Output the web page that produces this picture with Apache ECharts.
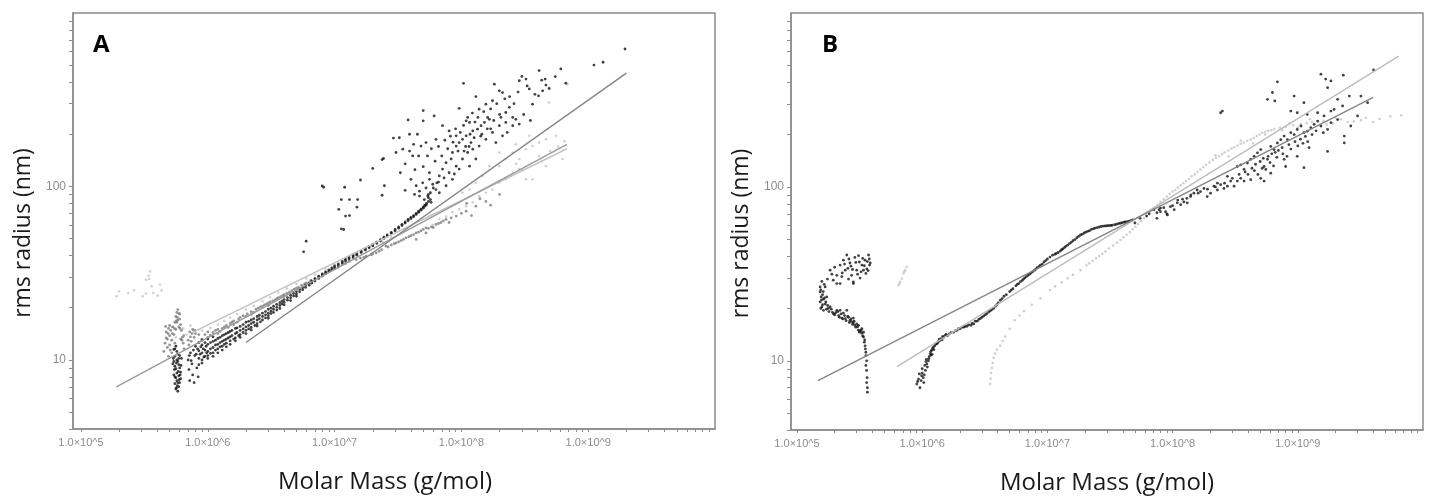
<!DOCTYPE html>
<html>
<head>
<meta charset="utf-8">
<script src="https://cdn.jsdelivr.net/npm/echarts@6/dist/echarts.min.js"></script>
<style>
  html, body { margin: 0; padding: 0; background: #fff; }
  #chart { width: 1432px; height: 497px; }
</style>
</head>
<body>
<div id="chart"></div>
<script>
// tick labels (log axes)
var massLabels = ['1.0×10^5', '1.0×10^6', '1.0×10^7', '1.0×10^8', '1.0×10^9'];
var massMajors = [1e5, 1e6, 1e7, 1e8, 1e9];
var radiusLabels = [10, 100];

// ---- panel A : [molar mass, rms radius] ----
var aBlack = [
  // cluster near 5.5e5
  [5.3e5,9.5],[5.4e5,8.2],[5.5e5,7.3],[5.5e5,10.5],[5.6e5,6.8],[5.6e5,8.9],[5.7e5,7.6],[5.7e5,11.2],[5.8e5,6.6],[5.8e5,9.8],
  [5.9e5,8.1],[5.9e5,7.0],[6.0e5,9.0],[6.0e5,7.4],[6.1e5,8.5],[6.2e5,10.2],[5.4e5,11.5],[5.6e5,12.0],[5.8e5,10.8],[6.1e5,7.8],
  [5.5e5,9.2],[5.7e5,8.4],[5.9e5,9.4],[6.0e5,10.6],[5.6e5,7.9],[5.35e5,10.2],[5.45e5,8.8],[5.65e5,9.6],[5.75e5,7.1],[5.85e5,8.6],
  [5.95e5,7.7],[6.05e5,8.2],[5.5e5,11.6],[5.7e5,10.0],[5.9e5,10.2],[5.8e5,7.4],[5.65e5,6.9],[5.4e5,9.8],[6.15e5,9.3],[5.5e5,8.0],
  // cluster near 7.5e5
  [7.0e5,10.0],[7.1e5,8.8],[7.2e5,7.6],[7.3e5,11.0],[7.5e5,9.5],[7.6e5,8.2],[7.8e5,7.4],[7.9e5,10.6],[8.0e5,12.0],[8.2e5,9.0],[8.4e5,8.0],
  [7.15e5,10.6],[7.4e5,9.9],[7.7e5,11.4],[8.1e5,10.8],[8.3e5,11.6],
  // dense band
  [8.5e5,10.2],[8.5e5,11.3],[8.5e5,12.6],[8.5e5,9.4],[9e5,11.0],[9e5,12.2],[9e5,10.0],[9e5,13.0],[9.5e5,11.4],[9.5e5,10.5],[9.5e5,12.6],
  [1.0e6,11.2],[1.0e6,12.3],[1.0e6,13.2],[1.0e6,10.6],[1.1e6,11.8],[1.1e6,12.8],[1.1e6,11.0],[1.1e6,13.6],[1.2e6,12.3],[1.2e6,13.3],[1.2e6,11.6],
  [1.3e6,12.8],[1.3e6,13.8],[1.3e6,12.0],[1.4e6,13.2],[1.4e6,14.2],[1.4e6,12.5],[1.5e6,13.6],[1.5e6,14.6],[1.5e6,12.9],[1.65e6,14.2],[1.65e6,15.2],[1.65e6,13.4],
  [1.8e6,14.8],[1.8e6,15.6],[1.8e6,14.0],[2.0e6,15.5],[2.0e6,16.5],[2.0e6,14.8],[2.2e6,16.2],[2.2e6,17.0],[2.2e6,15.4],[2.45e6,17.0],[2.45e6,17.8],[2.45e6,16.2],
  [2.7e6,17.8],[2.7e6,18.6],[3.0e6,18.6],[3.0e6,19.6],[3.0e6,18.0],[3.3e6,19.6],[3.3e6,20.4],[3.7e6,20.6],[3.7e6,21.4],[4.0e6,21.5],[4.0e6,22.3],
  [4.5e6,22.8],[4.5e6,23.6],[5.0e6,24.0],[5.0e6,24.8],[5.6e6,25.4],[5.6e6,26.2],[6.3e6,27.0],[6.3e6,27.8],[7.0e6,28.5],[7.0e6,29.3],[8.0e6,30.5],[8.0e6,31.3],
  [9.0e6,32.2],[9.0e6,33.0],[1.0e7,34.0],[1.0e7,34.8],[1.15e7,36.2],[1.15e7,37.0],[1.3e7,38.2],[1.3e7,39.0],[1.5e7,40.2],[1.5e7,41.0],[1.75e7,43.0],[1.75e7,43.8],
  [2.0e7,45.5],[2.0e7,46.3],[2.3e7,48.5],[2.3e7,49.3],[2.6e7,51.8],[2.6e7,52.6],[3.0e7,55.5],[3.0e7,56.5],[3.4e7,59.5],[3.4e7,60.5],[3.8e7,63.5],[3.8e7,64.5],
  [4.2e7,67.0],[4.2e7,68.0],[4.6e7,71.0],[4.6e7,72.0],[5.0e7,75.0],[5.0e7,76.0],[5.3e7,78.5],[5.3e7,80.0],[5.5e7,82],[5.5e7,86],[5.5e7,90],[5.7e7,84],[5.7e7,92],
  [8.7e5,10.8],[8.8e5,11.9],[9.2e5,11.6],[9.3e5,10.4],[9.7e5,12.0],[9.8e5,11.0],[1.05e6,11.6],[1.05e6,12.6],[1.05e6,10.9],[1.15e6,12.2],[1.15e6,13.0],
  [1.15e6,11.4],[1.25e6,12.6],[1.25e6,13.5],[1.25e6,11.9],[1.35e6,13.0],[1.35e6,14.0],[1.35e6,12.3],[1.45e6,13.4],[1.45e6,14.4],[1.55e6,13.8],[1.55e6,14.8],
  [1.6e6,13.2],[1.7e6,14.4],[1.7e6,15.3],[1.75e6,13.8],[1.9e6,15.1],[1.9e6,16.0],[1.9e6,14.4],[2.1e6,15.8],[2.1e6,16.7],[2.1e6,15.1],[2.3e6,16.5],
  [2.3e6,17.3],[2.35e6,15.8],[2.55e6,17.3],[2.55e6,18.1],[2.6e6,16.6],[2.85e6,18.2],[2.85e6,19.0],[2.85e6,17.5],[3.15e6,19.1],[3.15e6,19.9],[3.15e6,18.5],
  [3.5e6,20.1],[3.5e6,20.9],[3.5e6,19.4],[3.85e6,21.0],[3.85e6,21.8],[4.25e6,22.1],[4.25e6,22.9],[4.75e6,23.4],[4.75e6,24.2],[5.3e6,24.7],[5.3e6,25.5],
  [5.9e6,26.2],[5.9e6,27.0],[6.6e6,27.7],[6.6e6,28.5],[7.5e6,29.5],[7.5e6,30.3],[8.5e6,31.4],[8.5e6,32.2],[9.5e6,33.1],[9.5e6,33.9],[1.07e7,35.0],
  [1.07e7,35.8],[1.22e7,37.2],[1.22e7,38.0],[1.4e7,39.2],[1.4e7,40.0],[1.62e7,41.6],[1.62e7,42.4],[1.87e7,44.3],[1.87e7,45.1],[2.15e7,47.0],[2.15e7,47.8],
  [2.45e7,50.2],[2.45e7,51.0],[2.8e7,53.6],[2.8e7,54.4],[3.2e7,57.5],[3.2e7,58.5],[3.6e7,61.5],[3.6e7,62.5],[4.0e7,65.3],[4.0e7,66.3],[4.4e7,69.0],
  [4.4e7,70.0],[4.8e7,73.0],[4.8e7,74.0],[5.15e7,77],[5.15e7,78],
  [9e5,9.6],[1.0e6,10.2],[1.1e6,10.5],[1.2e6,11.0],[1.3e6,11.4],[1.4e6,11.9],[1.5e6,12.3],[1.65e6,12.9],[1.8e6,13.5],[2.0e6,14.2],[2.2e6,14.9],
  [2.45e6,15.7],[2.7e6,17.0],[3.0e6,17.4],[3.3e6,18.8],[3.7e6,19.8],[4.0e6,20.8],[4.5e6,22.0],[5.0e6,23.3],
  // scattered outliers
  [7.98e6,100.7],[8.2e6,99],[5.97e6,48.4],[5.7e6,42],[1.13e7,84],[1.31e7,84],[1.52e7,84],[1.08e7,73.8],[1.22e7,67.5],[1.31e7,68],[1.13e7,57],[1.18e7,56.5],
  [1.6e7,109],[1.2e7,99],[2.0e7,127],[2.37e7,143],[2.43e7,145],[2.47e7,101],[2.37e7,89],[1.5e7,76],
  // cloud
  [2.91e7,190],[3.24e7,191],[3.8e7,242],[5.0e7,274],[5.0e7,239],[6.1e7,255],[3.9e7,200],[4.5e7,200],[3.05e7,157],[3.45e7,164],[4.13e7,150],[4.8e7,171],
  [5.26e7,179],[6.3e7,187],[7.1e7,224],[8.0e7,209],[9.1e7,196],[9.6e7,282],[1.04e8,393],[1.09e8,239],[1.16e8,234],[1.23e8,209],[1.3e8,330],[1.38e8,279],
  [1.56e8,298],[1.61e8,250],[1.76e8,312],[1.82e8,389],[1.99e8,356],[2.11e8,348],[2.24e8,267],[2.39e8,286],[2.54e8,224],[2.69e8,244],[2.86e8,407],[3.0e8,431],
  [3.23e8,416],[3.43e8,365],[3.64e8,298],[4.06e8,333],[4.1e8,466],[4.37e8,356],[4.58e8,416],[4.64e8,384],[4.92e8,367],[6.08e8,476],[6.66e8,394],[1.11e9,501],
  [1.31e9,520],[1.95e9,620],
  [4.4e7,101],[4.67e7,94],[4.95e7,105],[5.26e7,98],[5.6e7,110],[5.94e7,103],[6.3e7,96],[5.43e7,88],[5.1e7,84],[5.77e7,81],[4.67e7,88],[4.27e7,90],
  [6.7e7,115],[7.1e7,126],[7.57e7,137],[8.3e7,144],[8.5e7,157],[9.1e7,171],[9.6e7,179],[1.02e8,187],[1.09e8,196],[1.19e8,179],[1.26e8,191],[1.34e8,214],
  [1.43e8,224],[1.52e8,234],[1.66e8,244],[8.0e7,120],[9.1e7,131],[1.02e8,144],[1.12e8,157],[1.23e8,164],[1.38e8,171],[1.56e8,187],[1.76e8,205],[1.99e8,224],
  [2.24e8,234],[2.54e8,250],[2.86e8,229],[2.11e8,196],[1.87e8,179],[1.3e8,144],[1.16e8,131],[9.6e7,126],[8.5e7,110],[7.57e7,101],[6.7e7,92],
  [6.0e7,98],[6.6e7,106],[7.3e7,112],[8.8e7,118],[1.05e8,160],[1.15e8,170],[1.45e8,200],[1.7e8,215],[2.0e8,260],[2.3e8,205],[3.1e8,260],[3.5e8,240],
  [3.3e7,120],[3.6e7,135],[3.9e7,160],[4.2e7,175],[4.6e7,150],[5.0e7,130],[5.4e7,150],[5.8e7,165],[6.2e7,140],[6.6e7,170],[7.0e7,150],[7.4e7,185],
  [7.8e7,165],[8.2e7,195],[8.6e7,180],[9.0e7,215],[9.4e7,160],[9.8e7,205],[1.04e8,225],[1.08e8,170],[1.12e8,250],[1.17e8,200],[1.22e8,265],[1.28e8,235],
  [1.35e8,250],[1.42e8,195],[1.5e8,270],[1.6e8,215],[1.7e8,280],[1.8e8,240],[1.9e8,300],[2.05e8,250],[2.2e8,320],[2.4e8,330],[2.6e8,300],[2.8e8,350],
  [3.3e8,380],[3.8e8,340],[4.3e8,410],[5.5e8,430],[3.6e7,95],[4.0e7,110],[4.3e7,125],[5.6e7,120],[6.4e7,105]
];

var aGray = [
  // blob with peak near 5.8e5
  [4.6e5,12.5],[4.7e5,14.5],[4.8e5,13.2],[4.8e5,11.8],[4.9e5,15.2],[5.0e5,13.8],[5.0e5,12.2],[5.1e5,14.8],[5.2e5,13.0],[5.3e5,15.5],[5.4e5,14.0],
  [5.5e5,16.5],[5.6e5,17.8],[5.7e5,18.8],[5.8e5,19.5],[5.9e5,18.5],[6.0e5,17.2],[6.1e5,16.0],[6.2e5,14.8],[6.3e5,13.5],[6.4e5,12.5],[6.5e5,11.6],
  [5.7e5,16.5],[5.9e5,15.5],[6.1e5,13.2],[7.0e5,13.0],[7.2e5,14.5],[7.4e5,12.8],[7.6e5,15.0],[7.8e5,13.5],[8.0e5,14.2],[4.5e5,11.2],[5.2e5,11.0],
  [4.9e5,10.5],[5.5e5,12.5],[4.7e5,13.4],[5.0e5,15.8],[5.6e5,15.0],[6.0e5,18.4],[5.8e5,17.0],[4.65e5,15.6],[4.85e5,14.2],[5.05e5,11.4],[5.25e5,14.2],
  [5.45e5,15.2],[5.65e5,16.8],[5.75e5,17.6],[6.05e5,15.2],[6.25e5,13.0],[7.1e5,12.2],[7.3e5,13.6],[7.5e5,14.2],[7.9e5,14.8],[6.45e5,13.8],
  // band above the black one
  [8.5e5,14.0],[9e5,13.2],[1.0e6,14.5],[1.0e6,13.5],[1.1e6,14.4],[1.2e6,15.0],[1.2e6,14.2],[1.3e6,15.2],[1.4e6,15.8],[1.5e6,16.2],[1.6e6,16.8],[1.6e6,16.0],
  [1.75e6,17.2],[1.9e6,18.0],[2.05e6,18.4],[2.2e6,19.0],[2.2e6,18.3],[2.4e6,19.6],[2.6e6,20.2],[2.8e6,20.8],[3.0e6,21.3],[3.0e6,20.6],[3.25e6,21.9],
  [3.5e6,22.6],[3.75e6,23.2],[4.0e6,23.8],[4.0e6,23.2],[4.4e6,24.6],[4.8e6,25.6],[5.2e6,26.2],[5.5e6,27.0],[6.0e6,27.8],[6.5e6,28.8],[7.0e6,29.5],
  [7.5e6,30.4],[8.0e6,31.0],[8.5e6,31.8],[9.2e6,32.6],[1.0e7,33.5],[1.07e7,34.2],[1.15e7,35.5],[1.22e7,36.0],
  [9.5e5,14.0],[1.05e6,13.9],[1.15e6,14.8],[1.25e6,14.6],[1.35e6,15.5],[1.45e6,15.4],[1.55e6,16.5],[1.7e6,16.5],[1.8e6,17.6],[2.0e6,17.8],[2.3e6,18.8],
  [2.5e6,19.9],[2.7e6,20.4],[2.9e6,21.0],[3.1e6,21.6],[3.4e6,22.2],[3.6e6,22.9],[3.9e6,23.5],[4.2e6,24.2],[4.6e6,25.1],[5.0e6,25.9],[5.8e6,27.4],
  // lower branch
  [1.3e7,37.0],[1.48e7,37.9],[1.6e7,38.6],[1.77e7,39.6],[1.95e7,40.4],[2.13e7,41.4],[2.35e7,43.2],[2.55e7,45.3],[2.8e7,46.0],[3.05e7,47.3],[3.35e7,48.8],
  [3.66e7,50.6],[4.0e7,52.0],[4.4e7,54],[4.4e7,49.5],[4.8e7,55.5],[5.26e7,57.8],[5.26e7,54],[5.8e7,58.5],[6.3e7,60.4],[6.9e7,62.0],[7.57e7,64.6],
  [8.3e7,66.0],[9.1e7,67.5],[1.0e8,70],[1.09e8,72],[1.2e8,68],[1.3e8,77],[1.4e8,85],[1.56e8,82],[1.7e8,78],[2.0e8,90],[1.1e8,80],[6.0e7,58],[8.0e7,62],
  [1.4e7,38.3],[1.7e7,39.0],[2.0e7,41.0],[2.25e7,42.4],[2.65e7,44.8],[2.95e7,46.8],[3.2e7,48.0],[3.5e7,49.6],[3.85e7,51.4],[4.2e7,52.8],[4.6e7,54.6],
  [5.0e7,56.6],[5.5e7,57.4],[6.6e7,61.2],[7.2e7,63.4]
];

var aLight = [
  // upper-left group
  [1.91e5,23.3],[2.0e5,24.9],[2.36e5,24.3],[2.62e5,25.2],[3.06e5,23.3],[3.25e5,24.1],[3.45e5,29.3],[3.4e5,30.6],[3.5e5,32.4],[3.6e5,26.6],
  [3.72e5,24.3],[4.02e5,23.5],[4.19e5,27.2],[4.32e5,25.2],[3.25e5,29],
  // around the gray blob and the upper edge of the band
  [5.2e5,15.5],[5.6e5,13.5],[6.4e5,15.2],[6.8e5,14.0],[7.3e5,15.8],[7.7e5,14.8],
  [9e5,14.8],[1.05e6,15.3],[1.2e6,16.0],[1.35e6,16.8],[1.5e6,17.5],[1.7e6,18.4],[2e6,19.5],[2.3e6,20.5],[2.7e6,21.8],[3.1e6,23.0],[3.6e6,24.4],
  [4.2e6,25.8],[5e6,27.5],[6e6,29.5],[7e6,31.0],[8.5e6,33.5],[1e7,35.5],[1.2e7,38.0],[1.45e7,40.5],[1.7e7,43],[2e7,45.5],[2.4e7,48],[2.8e7,51],
  // cloud at high mass
  [1.99e8,131],[2.24e8,144],[2.54e8,157],[2.86e8,144],[3.23e8,164],[3.64e8,171],[4.1e8,179],[4.64e8,187],[5.56e8,196],[6.27e8,144],[6.87e8,389],
  [4.92e8,305],[3.64e8,110],[3.23e8,110],[2.86e8,126],[2.54e8,120],[2.24e8,110],[1.99e8,105],[1.76e8,96],[1.56e8,92],[1.38e8,88],[1.23e8,81],
  [1.09e8,77],[9.6e7,74],[8.5e7,71],[7.57e7,67],[6.7e7,65],[5.94e7,60],[2.69e8,175],[3.43e8,196],[4.1e8,150],[4.64e8,131],[1.99e8,157],[1.66e8,131],
  [1.47e8,115],[1.3e8,105],[1.16e8,96],[1.02e8,92],[5.0e8,160],[5.8e8,170],[6.5e8,182],[4.3e8,140],[3.0e8,125],[2.7e8,135]
];

// fit lines, endpoints
var aLineMid = [[1.9e5, 7.0], [6.8e8, 175]];
var aLineDark = [[2.0e6, 12.6], [2.0e9, 450]];
var aLineLight = [[7.6e5, 14.4], [6.8e8, 165]];

// ---- panel B ----
var bBlack = [
  // C-shaped group at low mass
  [1.84e5,33.2],[1.95e5,29.1],[2.08e5,31.0],[2.21e5,35.5],[2.21e5,27.8],[2.35e5,37.9],[2.43e5,33.2],[2.5e5,40.6],[2.65e5,36.5],[2.73e5,31.0],
  [2.82e5,27.8],[2.9e5,39.3],[3.0e5,33.2],[3.1e5,40.2],[3.19e5,29.9],[3.3e5,35.5],[3.4e5,33.2],[3.5e5,37.9],[3.61e5,33.8],[3.73e5,40.6],[3.8e5,35.5],
  [2.08e5,27.8],[2.28e5,30.5],[2.58e5,29.5],[2.82e5,28.4],
  [2.3e5,32.0],[2.4e5,36.0],[2.55e5,34.0],[2.6e5,38.5],[2.7e5,35.0],[2.78e5,33.5],[2.95e5,36.8],[3.05e5,31.5],[3.15e5,37.0],[3.25e5,32.5],[3.35e5,38.8],
  [3.45e5,35.2],[3.55e5,31.8],[3.65e5,37.2],[3.7e5,33.0],[3.78e5,38.5],[3.85e5,36.5],[2.0e5,34.5],[1.9e5,31.5],[1.75e5,29.5],[1.65e5,27.5],
  [1.58e5,28.6],[1.53e5,26.6],[1.53e5,24.9],[1.56e5,23.3],[1.53e5,21.8],[1.58e5,20.4],[1.63e5,19.5],[1.68e5,26.6],[1.73e5,23.3],[1.63e5,22.6],
  [1.7e5,21.8],[1.6e5,24.0],
  [1.55e5,25.6],[1.57e5,22.4],[1.6e5,21.0],[1.55e5,20.0],[1.62e5,25.0],[1.66e5,23.0],[1.68e5,21.2],[1.72e5,19.8],[1.76e5,20.8],[1.8e5,19.2],
  [1.88e5,19.8],[1.96e5,18.6],[2.04e5,18.9],[2.12e5,19.2],[2.18e5,17.8],[2.25e5,18.6],[2.32e5,17.4],[2.4e5,18.2],[2.47e5,17.0],[2.54e5,18.0],
  [2.62e5,16.6],[2.7e5,17.4],[2.78e5,16.2],[2.86e5,16.9],[2.95e5,15.6],[3.05e5,15.7],[3.15e5,14.6],[3.25e5,15.0],[3.35e5,13.9],[3.4e5,14.6],
  [3.48e5,13.2],[3.5e5,12.2],[3.55e5,11.2],
  [1.78e5,20.0],[1.84e5,20.4],[1.92e5,19.0],[2.08e5,19.5],[2.15e5,18.2],[2.21e5,19.5],[2.35e5,18.8],[2.43e5,17.5],[2.5e5,19.5],[2.58e5,17.8],
  [2.65e5,17.1],[2.73e5,16.8],[2.82e5,16.5],[2.9e5,16.0],[3.0e5,16.3],[3.1e5,15.0],[3.19e5,14.8],[3.3e5,14.4],[3.4e5,13.7],[3.45e5,12.8],[3.52e5,11.7],
  [2.28e5,17.6],[2.0e5,18.4],[2.82e5,17.6],[3.1e5,16.0],[3.3e5,15.3],
  [3.55e5,10.7],[3.6e5,10.0],[3.55e5,9.4],[3.6e5,8.8],[3.63e5,8.0],[3.6e5,7.5],[3.65e5,7.0],[3.65e5,6.6],
  // main curve
  [9.06e5,7.35],[9.35e5,7.85],[9.6e5,7.0],[9.9e5,8.2],[1.03e6,7.5],[9.2e5,7.6],[9.5e5,8.4],[1.0e6,9.0],[1.06e6,8.8],[1.09e6,9.6],[1.12e6,10.0],
  [1.16e6,11.0],[1.19e6,11.5],[1.23e6,12.0],[1.31e6,12.5],[1.39e6,13.1],[1.48e6,13.6],[1.57e6,14.0],[1.78e6,14.6],[2.01e6,15.3],[2.28e6,15.8],
  [2.58e6,16.3],[2.91e6,17.5],[3.29e6,18.7],[3.72e6,20.0],[4.21e6,22.3],
  [1.02e6,8.0],[1.05e6,9.4],[1.08e6,10.2],[1.1e6,9.2],[1.14e6,10.6],[1.18e6,10.8],[1.21e6,11.8],[1.26e6,12.2],[1.35e6,12.9],[1.44e6,13.2],[1.52e6,13.9],
  [1.65e6,14.3],[1.9e6,15.0],[2.15e6,15.6],[2.45e6,16.0],[2.75e6,16.9],[3.1e6,18.1],[3.5e6,19.4],[3.95e6,21.0],[4.5e6,23.5],[5.0e6,25.0],[5.6e6,27.0],
  [6.3e6,29.0],[7.0e6,31.0],[7.9e6,33.2],[8.8e6,35.5],[1.0e7,38.5],[1.1e7,40.5],[1.27e7,42.8],[1.4e7,45.5],[1.6e7,49.0],[1.84e7,52.9],[2.1e7,55.5],
  [2.4e7,58],[2.8e7,59.5],[3.2e7,60],[3.7e7,61.5],[4.2e7,63],[4.8e7,64.5],[5.5e7,66],[6.2e7,68],[8e7,72],
  [5.3e6,26.0],[5.9e6,27.8],[6.6e6,30.0],[7.4e6,32.0],[8.3e6,34.3],[9.4e6,37.0],[1.18e7,41.5],[1.33e7,44.0],[1.5e7,47.2],[1.72e7,51.0],[1.97e7,54.3],
  [2.25e7,57.0],[2.6e7,58.8],[3.0e7,59.8],[3.45e7,60.6],[3.95e7,62.2],[4.5e7,63.5],
  [9.8e5,7.7],[1.0e6,8.5],[1.04e6,8.3],[1.07e6,9.9],[1.13e6,10.3],[1.17e6,11.3],[1.2e6,10.9],[1.24e6,11.6],[1.28e6,12.5],[1.33e6,12.7],[1.37e6,13.3],
  [1.42e6,13.4],[1.46e6,13.8],[1.55e6,14.2],[1.6e6,14.0],[1.7e6,14.5],[1.85e6,14.9],[1.95e6,15.3],[2.08e6,15.6],[2.2e6,15.8],[2.35e6,16.1],[2.5e6,16.4],
  [2.65e6,16.9],[2.83e6,17.3],[3.0e6,17.8],[3.2e6,18.4],[3.4e6,19.1],[3.6e6,19.7],[3.85e6,20.6],[4.05e6,21.5],[4.35e6,22.8],[4.7e6,24.0],[5.15e6,25.5],
  [5.75e6,27.5],[6.1e6,28.5],[6.45e6,29.5],[6.8e6,30.5],[7.2e6,31.5],[7.65e6,32.6],[8.1e6,33.7],[8.6e6,34.9],[9.1e6,36.0],[9.7e6,37.7],[1.05e7,39.5],
  [1.15e7,41.0],[1.22e7,42.0],[1.3e7,43.5],[1.37e7,44.8],[1.45e7,46.2],[1.55e7,48.0],[1.66e7,49.8],[1.78e7,52.0],[1.9e7,53.5],[2.03e7,55.0],[2.17e7,56.0],
  [2.33e7,57.4],[2.5e7,58.3],[2.7e7,59.2],[2.9e7,59.6],[3.1e7,59.9],[3.3e7,60.2],[3.57e7,61.0],[3.82e7,61.8],[4.1e7,62.6],[4.35e7,63.2],[4.65e7,64.0],
  [5.0e7,62],[6.5e7,70],[7.5e7,66],[8.5e7,76],[9e7,70],
  // cloud at high mass
  [7.1e7,74],[7.5e7,71],[8.0e7,75.5],[8.8e7,72],[9.6e7,77],[1.09e8,81],[1.16e8,79],[1.23e8,82],[1.39e8,88],[1.48e8,92],[1.57e8,96],[1.67e8,94],
  [1.78e8,98],[2.01e8,92],[2.14e8,101],[2.28e8,105],[2.42e8,103],[2.57e8,98],[2.74e8,101],[2.91e8,108],[3.29e8,131],[3.5e8,134],[3.72e8,126],
  [3.96e8,137],[4.21e8,144],[4.48e8,150],[4.76e8,157],[5.06e8,164],[5.38e8,131],[5.55e8,126],[5.72e8,144],[6.08e8,171],[6.47e8,164],[6.87e8,179],
  [7.31e8,187],[7.78e8,196],[8.26e8,187],[8.79e8,205],[9.35e8,200],[9.9e8,214],[1.06e9,224],[1.12e9,205],[1.19e9,209],[1.27e9,219],[1.35e9,229],
  [1.44e9,239],[1.53e9,224],[1.62e9,256],[1.73e9,214],[1.84e9,234],[1.95e9,279],[2.08e9,244],[2.28e9,292],[2.35e9,196],[2.65e9,224],[3.0e9,256],
  [3.61e9,305],[3.19e9,333],[2.08e9,319],[1.84e9,273],[1.44e9,267],[1.19e9,261],[9.9e8,267],[8.79e8,273],[6.87e8,402],[6.27e8,349],[5.72e8,319],
  [6.55e8,312],[9.35e8,333],[1.12e9,305],[1.53e9,445],[1.67e9,417],[1.84e9,407],[1.73e9,372],[2.31e9,439],[2.58e9,333],[4.03e9,470],[2.74e8,115],
  [2.42e8,267],[2.5e8,273],[5.38e8,108],[3.72e8,108],[1.12e9,129],[1.73e9,160],[2.35e9,179],[1.23e9,168],[9.9e8,150],[7.78e8,144],[8.0e8,131],
  [6.08e8,120],[5.06e8,112],[4.21e8,110],[3.29e8,108],[3.1e8,101],[2.28e8,96],[1.89e8,88],[1.31e8,81],[1.03e8,74],[9.1e7,69],[7.8e7,74],
  [3.0e8,112],[3.4e8,118],[3.8e8,122],[4.3e8,128],[4.6e8,135],[5.0e8,140],[5.3e8,146],[5.8e8,150],[6.2e8,155],[6.6e8,158],[7.0e8,162],[7.5e8,168],
  [8.5e8,175],[9.5e8,182],[1.05e9,188],[1.15e9,195],[1.3e9,200],[4.0e8,118],[4.5e8,124],[5.2e8,128],[6.0e8,138],[6.8e8,148],[7.6e8,155],[8.8e8,165],
  [1.0e9,172],[1.1e9,178],[2.6e8,105],[2.2e8,100],[1.9e8,97],[1.6e8,92],[1.4e8,90],[1.2e8,85],[3.5e8,112],[4.8e8,118],[6.4e8,132],[8.2e8,150],
  [1.2e9,182],[1.4e9,210],[1.6e9,205],[1.0e8,78],[1.1e8,84],[1.3e8,86]
];

var bLight = [
  // small group near 7e5
  [6.47e5,27.2],[6.67e5,28.5],[6.87e5,29.7],[7.1e5,31.8],[7.3e5,33.2],[7.53e5,34.7],[6.6e5,27.8],[7.17e5,32.5],
  // curve
  [3.5e6,7.35],[3.52e6,7.9],[3.55e6,8.5],[3.6e6,9.1],[3.65e6,9.7],[3.72e6,10.4],[3.82e6,11.0],[3.95e6,11.6],[4.2e6,12.2],[4.4e6,13.0],[4.6e6,13.8],
  [5.0e6,15.3],[5.5e6,17.1],[6.0e6,18.2],[6.5e6,19.3],[7.5e6,21],[8.8e6,22.9],[1.05e7,25.5],[1.15e7,26.8],[1.3e7,28.3],[1.45e7,29.8],[1.6e7,31.2],
  [1.84e7,33.2],[2.05e7,35.4],[2.3e7,37.5],[2.6e7,40.0],[2.9e7,42.5],[3.35e7,46.0],[3.84e7,49.5],[4.3e7,53.0],[4.8e7,57],[5.3e7,61],[5.9e7,66],
  [6.5e7,71],[7.2e7,75.7],[8.0e7,82],[9e7,88],[1.0e8,94],[1.1e8,99],[1.22e8,105],[1.35e8,111],[1.5e8,118],[1.67e8,126],[1.85e8,134],[2.1e8,143],
  [2.35e8,150],[2.6e8,158],[2.95e8,166],[3.3e8,173],[3.7e8,180],[4.2e8,187],[4.7e8,196],[5.2e8,205],[5.8e8,210],[6.5e8,215],[7.2e8,219],[8e8,222],
  [9.2e8,226],[1.06e9,229],[1.18e9,232],[1.3e9,236],[1.45e9,238],[1.6e9,240],[1.9e9,232],[2.2e9,245],[2.5e9,236],[2.8e9,238],[3.2e9,242],
  [3.5e9,250],[4.0e9,236],[4.5e9,246],[5.5e9,255],[6.7e9,258],
  [2.2e8,152],[2.8e8,150],[3.5e8,185],[4.4e8,178],[5.5e8,200],[7.5e8,212],[8.6e8,232],[1.0e9,220],[1.25e9,245],[1.7e9,228],[2.0e9,250],
  [2.15e7,36.4],[2.45e7,38.8],[2.75e7,41.2],[3.1e7,44.2],[3.6e7,47.8],[4.05e7,51.3],[4.55e7,55.0],[5.05e7,59.0],[5.6e7,63.5],[6.2e7,68.5],[6.85e7,73.4],
  [7.6e7,79],[8.5e7,85],[9.5e7,91],[1.05e8,96],[1.16e8,102],[1.28e8,108],[1.42e8,115],[1.58e8,122],[1.76e8,130],[1.97e8,138],[2.22e8,147],[2.48e8,154],
  [2.78e8,162],[3.1e8,169],[3.5e8,177],[3.95e8,184],[4.45e8,191],[4.95e8,200],[5.5e8,207],[6.15e8,212]
];

var bLineDark = [[1.47e5, 7.7], [4.0e9, 327]];
var bLineLight = [[6.3e5, 9.25], [6.4e9, 565]];

// ---- build chart ----
var massTicks = [];
for (var e = 5; e < 10; e++) {
  for (var m = 1; m < 10; m++) massTicks.push(m * Math.pow(10, e));
}
var radiusTicks = [];
[1, 10, 100].forEach(function (d) {
  for (var m = 1; m < 10; m++) if (m * d >= 4) radiusTicks.push(m * d);
});

var axisGray = '#8c8c8c';
var font = 'Liberation Sans';

function xAxisFor(grid, min, namePad) {
  return {
    gridIndex: grid, type: 'log', logBase: 10, min: min, max: 1e10,
    axisLine: { show: true, lineStyle: { color: axisGray, width: 1.5 } },
    axisTick: { show: true, customValues: massTicks, length: 3, inside: false, lineStyle: { color: axisGray } },
    axisLabel: {
      customValues: massMajors, color: axisGray, fontSize: 11, fontFamily: font, margin: 8,
      formatter: function (v) { return massLabels[massMajors.indexOf(v)] || ''; }
    },
    splitLine: { show: false }, minorTick: { show: false },
    name: 'Molar Mass (g/mol)', nameLocation: 'middle', nameGap: 41,
    nameTextStyle: { fontSize: 24, color: '#1a1a1a', fontFamily: 'Open Sans', padding: namePad }
  };
}
function yAxisFor(grid) {
  return {
    gridIndex: grid, type: 'log', logBase: 10, min: 4, max: 1000,
    axisLine: { show: true, lineStyle: { color: axisGray, width: 1.5 } },
    axisTick: { show: true, customValues: radiusTicks, length: 4, lineStyle: { color: axisGray } },
    axisLabel: { customValues: radiusLabels, color: axisGray, fontSize: 12, fontFamily: font, margin: 7 },
    splitLine: { show: false },
    name: 'rms radius (nm)', nameLocation: 'middle', nameGap: 38,
    nameTextStyle: { fontSize: 23, color: '#1a1a1a', fontFamily: 'Open Sans', padding: [0, 24, 0, 0] }
  };
}
function dots(data, grid, color, size) {
  return { type: 'scatter', xAxisIndex: grid, yAxisIndex: grid, data: data, symbol: 'circle',
    symbolSize: size, itemStyle: { color: color }, silent: true, z: 3 };
}
function fit(data, grid, color) {
  return { type: 'line', xAxisIndex: grid, yAxisIndex: grid, data: data, showSymbol: false,
    lineStyle: { color: color, width: 1.4 }, silent: true, z: 4 };
}

var chart = echarts.init(document.getElementById('chart'), null, { renderer: 'canvas' });
chart.setOption({
  animation: false,
  backgroundColor: '#fff',
  title: [
    { text: 'A', left: 88, top: 28, textStyle: { fontSize: 24, fontWeight: 'bold', color: '#000', fontFamily: 'Open Sans' } },
    { text: 'B', left: 817, top: 28, textStyle: { fontSize: 24, fontWeight: 'bold', color: '#000', fontFamily: 'Open Sans' } }
  ],
  grid: [
    { left: 73, top: 13, width: 642, height: 416, show: true, borderColor: axisGray, borderWidth: 1.5, outerBoundsMode: 'none' },
    { left: 791, top: 13, width: 632, height: 417, show: true, borderColor: axisGray, borderWidth: 1.5, outerBoundsMode: 'none' }
  ],
  xAxis: [xAxisFor(0, 8.65e4, [0, 18, 0, 0]), xAxisFor(1, 8.96e4, [0, 0, 0, 0])],
  yAxis: [yAxisFor(0), yAxisFor(1)],
  series: [
    dots(aLight, 0, '#c4c4c4', 2.6),
    dots(aGray, 0, '#7a7a7a', 2.8),
    dots(aBlack, 0, '#111', 2.8),
    fit(aLineLight, 0, '#c2c2c2'),
    fit(aLineMid, 0, '#9a9a9a'),
    fit(aLineDark, 0, '#858585'),
    dots(bLight, 1, '#c4c4c4', 2.6),
    dots(bBlack, 1, '#111', 2.8),
    fit(bLineLight, 1, '#bdbdbd'),
    fit(bLineDark, 1, '#858585')
  ]
});
</script>
</body>
</html>
